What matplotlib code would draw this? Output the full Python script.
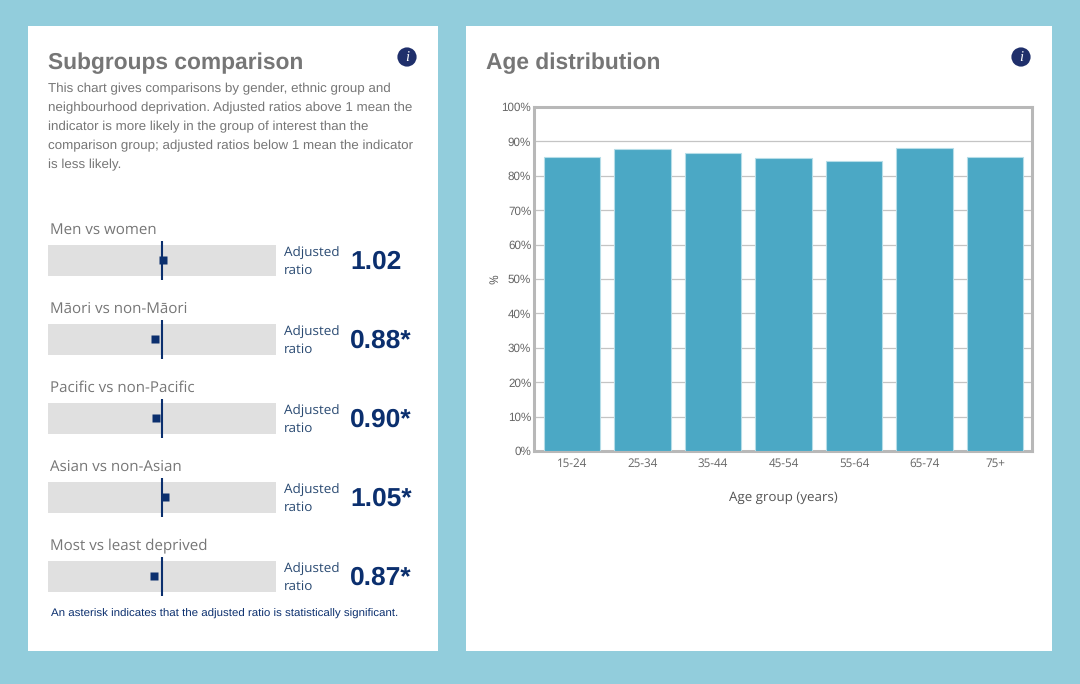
import matplotlib
matplotlib.use("Agg")
import matplotlib.pyplot as plt
from matplotlib.patches import Rectangle, Circle

plt.rcParams["text.hinting"] = "no_hinting"

W = 1080
H = 684

# left panel data
groupNames = ["Men vs women", "Māori vs non-Māori", "Pacific vs non-Pacific", "Asian vs non-Asian", "Most vs least deprived"]
ratios = [1.02, 0.88, 0.90, 1.05, 0.87]
ratioLabels = ["1.02", "0.88*", "0.90*", "1.05*", "0.87*"]

# right panel data
ageGroups = ["15-24", "25-34", "35-44", "45-54", "55-64", "65-74", "75+"]
agePercents = [85.4, 87.7, 86.6, 85.1, 84.4, 88.2, 85.4]
yTicks = [0, 10, 20, 30, 40, 50, 60, 70, 80, 90, 100]

introLines = [
    "This chart gives comparisons by gender, ethnic group and",
    "neighbourhood deprivation. Adjusted ratios above 1 mean the",
    "indicator is more likely in the group of interest than the",
    "comparison group; adjusted ratios below 1 mean the indicator",
    "is less likely.",
]

BG = "#92cddc"
NAVY = "#0b2f6e"
GREY_TEXT = "#767676"
ARIAL = "Liberation Sans"
OPEN = "Open Sans"


def fx(x):
    return x / W


def fy(y):
    return 1 - y / H


def put_text(fig, x, y, s, **kw):
    kw.setdefault("va", "center")
    return fig.text(fx(x), fy(y), s, **kw)


def add_panel(fig, x0, y0, x1, y1):
    # negative zorder so the axes stay on top of the white panel
    fig.add_artist(Rectangle((fx(x0), fy(y1)), (x1 - x0) / W, (y1 - y0) / H,
                             transform=fig.transFigure, fc="white", ec="none", zorder=-5))


def add_pixel_axes(fig, x0, y0, x1, y1):
    return fig.add_axes([fx(x0), fy(y1), (x1 - x0) / W, (y1 - y0) / H])


def add_info_icon(fig, cx, cy):
    # circle needs pixel coords so it stays round
    ax = add_pixel_axes(fig, cx - 11, cy - 11, cx + 11, cy + 11)
    ax.set_xlim(-11, 11)
    ax.set_ylim(-11, 11)
    ax.axis("off")
    ax.add_patch(Circle((0, 0), 9.6, fc="#1f2f6b", ec="none"))
    ax.text(0, -0.3, "i", color="white", fontsize=10.5, family="Liberation Serif",
            style="italic", ha="center", va="center")


def draw_ratio_row(fig, top, name, ratio, label):
    put_text(fig, 50, top - 15, name, family=OPEN, fontsize=10.9, color=GREY_TEXT)
    ax = add_pixel_axes(fig, 48, top, 276, top + 31)
    ax.set_facecolor("#e0e0e0")
    ax.set_xlim(1 - 1.966, 1 + 1.966)
    ax.set_ylim(0, 1)
    ax.set_xticks([])
    ax.set_yticks([])
    for s in ax.spines.values():
        s.set_visible(False)
    ax.plot([1, 1], [-0.12, 1.12], color=NAVY, lw=1.5, clip_on=False, solid_capstyle="butt", zorder=3)
    ax.plot([ratio], [0.52], marker="s", ms=5.2, color=NAVY, mec="none", zorder=4)
    put_text(fig, 284, top + 8.5, "Adjusted", family=OPEN, fontsize=9.7, color="#2a4a72")
    put_text(fig, 284, top + 25, "ratio", family=OPEN, fontsize=9.7, color="#2a4a72")
    put_text(fig, 350, top + 17, label, family=ARIAL, weight="bold", fontsize=19, color=NAVY)


def main():
    fig = plt.figure(figsize=(W / 100, H / 100), dpi=100, facecolor=BG)

    add_panel(fig, 28, 26, 438, 651)
    add_panel(fig, 466, 26, 1052, 651)

    # left panel
    put_text(fig, 48, 63, "Subgroups comparison", family=ARIAL, weight="bold", fontsize=16.4, color=GREY_TEXT)
    for i, line in enumerate(introLines):
        put_text(fig, 48, 89 + i * 19, line, family=ARIAL, fontsize=9.62, color=GREY_TEXT)
    add_info_icon(fig, 407, 57)

    for i, name in enumerate(groupNames):
        draw_ratio_row(fig, 245 + i * 79, name, ratios[i], ratioLabels[i])

    put_text(fig, 51, 614, "An asterisk indicates that the adjusted ratio is statistically significant.",
             family=ARIAL, fontsize=8.25, color="#0b2f6e")

    # right panel
    put_text(fig, 486, 63, "Age distribution", family=ARIAL, weight="bold", fontsize=16.4, color=GREY_TEXT)
    add_info_icon(fig, 1021, 57)

    ax = add_pixel_axes(fig, 534, 107, 1032, 451)
    ax.bar(range(len(ageGroups)), agePercents, width=0.8, color="#4ba8c5", edgecolor="#b5dde8", linewidth=0.8, zorder=3)
    ax.set_xlim(-0.539, 6.525)
    ax.set_ylim(0, 100)
    ax.set_xticks(range(len(ageGroups)))
    ax.set_xticklabels(ageGroups, family=OPEN, fontsize=8.4, color="#666666")
    ax.set_yticks(yTicks)
    ax.set_yticklabels([str(t) + "%" for t in yTicks], family=ARIAL, fontsize=8.4, color="#666666", va="center_baseline")
    ax.tick_params(length=0, pad=2)
    ax.tick_params(axis="x", pad=5)
    ax.grid(axis="y", color="#c4c4c4", lw=0.9, zorder=0)
    ax.set_axisbelow(True)
    for s in ax.spines.values():
        s.set_color("#b8b8b8")
        s.set_linewidth(2.2)
    put_text(fig, 495, 279, "%", family=OPEN, fontsize=8.6, color="#555555", rotation=90, ha="center")
    put_text(fig, 783.5, 498, "Age group (years)", family=OPEN, fontsize=9.6, color="#555555", ha="center")

    fig.savefig("out.png", dpi=100, facecolor=BG)


if __name__ == "__main__":
    main()
